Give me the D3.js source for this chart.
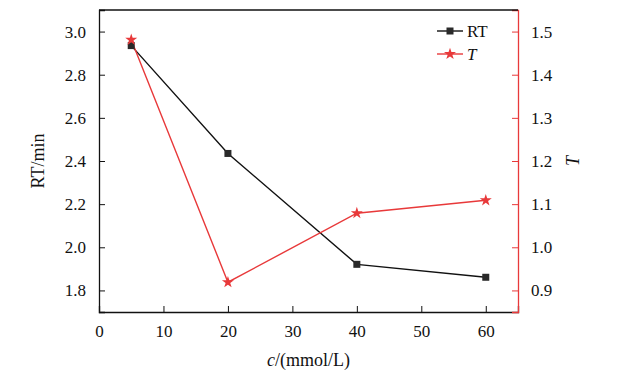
<!DOCTYPE html>
<html>
<head>
<meta charset="utf-8">
<script src="https://cdn.jsdelivr.net/npm/d3@7"></script>
<style>
  body { margin: 0; background: #fff; }
  svg text { font-family: "Liberation Serif", "Times New Roman", "DejaVu Serif", serif; }
</style>
</head>
<body>
<div id="chart"></div>
<script>
// concentration c (mmol/L)
const concentrations = [5, 20, 40, 60];
// retention time RT (min), left axis
const rtValues = [2.935, 2.435, 1.921, 1.861];
// tailing factor T, right axis
const tValues = [1.481, 0.919, 1.079, 1.109];

const xTicks = [0, 10, 20, 30, 40, 50, 60];
const rtTicks = [1.8, 2.0, 2.2, 2.4, 2.6, 2.8, 3.0];
const tTicks = [0.9, 1.0, 1.1, 1.2, 1.3, 1.4, 1.5];

const width = 617, height = 376;
const margin = { top: 10, right: 99, bottom: 64, left: 99 };
const red = "#e8393a";
const serif = "'Liberation Serif', 'Times New Roman', serif";

const svg = d3.select("#chart")
    .append("svg")
    .attr("width", width)
    .attr("height", height)
    .attr("font-family", serif);

const innerWidth = width - margin.left - margin.right;
const innerHeight = height - margin.top - margin.bottom;

const g = svg.append("g")
    .attr("transform", `translate(${margin.left},${margin.top})`);

const x = d3.scaleLinear().domain([0, 65]).range([0, innerWidth]);
const yL = d3.scaleLinear().domain([1.7, 3.1]).range([innerHeight, 0]);
const yR = d3.scaleLinear().domain([0.85, 1.55]).range([innerHeight, 0]);

// Axes (ticks pointing inward)
const xAxis = g.append("g")
    .attr("transform", `translate(0,${innerHeight})`)
    .call(d3.axisBottom(x).tickValues(xTicks).tickSize(-6).tickPadding(13).tickFormat(d3.format("d")));

const leftAxis = g.append("g")
    .call(d3.axisLeft(yL).tickValues(rtTicks).tickSize(-6).tickPadding(13).tickFormat(d3.format(".1f")));

const rightAxis = g.append("g")
    .attr("transform", `translate(${innerWidth},0)`)
    .call(d3.axisRight(yR).tickValues(tTicks).tickSize(-6).tickPadding(13).tickFormat(d3.format(".1f")));

[xAxis, leftAxis, rightAxis].forEach(a => {
    a.attr("font-family", serif).attr("font-size", 17);
    a.selectAll("text").attr("fill", "#111");
    a.selectAll("line").attr("stroke", "#111");
    a.select(".domain").attr("stroke", "#111").attr("stroke-width", 1.3);
});
rightAxis.selectAll("line").attr("stroke", red);
rightAxis.select(".domain").attr("stroke", red);

// top border
g.append("line")
    .attr("x1", 0).attr("x2", innerWidth)
    .attr("y1", 0).attr("y2", 0)
    .attr("stroke", "#111").attr("stroke-width", 1.3);

const rtData = concentrations.map((c, i) => ({ c, v: rtValues[i] }));
const tData = concentrations.map((c, i) => ({ c, v: tValues[i] }));

// Lines
g.append("path")
    .datum(rtData)
    .attr("fill", "none")
    .attr("stroke", "#111")
    .attr("stroke-width", 1.4)
    .attr("d", d3.line().x(d => x(d.c)).y(d => yL(d.v)));

g.append("path")
    .datum(tData)
    .attr("fill", "none")
    .attr("stroke", red)
    .attr("stroke-width", 1.4)
    .attr("d", d3.line().x(d => x(d.c)).y(d => yR(d.v)));

const star = d3.symbol().type(d3.symbolStar).size(45);

// Markers
g.selectAll(".rt-pt")
    .data(rtData)
    .join("rect")
    .attr("class", "rt-pt")
    .attr("x", d => x(d.c) - 3.5)
    .attr("y", d => yL(d.v) - 3.5)
    .attr("width", 7)
    .attr("height", 7)
    .attr("fill", "#2a2a2a");

g.selectAll(".t-pt")
    .data(tData)
    .join("path")
    .attr("class", "t-pt")
    .attr("transform", d => `translate(${x(d.c)},${yR(d.v)})`)
    .attr("d", star)
    .attr("fill", red);

// Legend
const legend = svg.append("g").attr("transform", "translate(437,31)").attr("font-size", 17);
legend.append("line").attr("x1", 0).attr("x2", 26).attr("y1", 0).attr("y2", 0)
    .attr("stroke", "#111").attr("stroke-width", 1.4);
legend.append("rect").attr("x", 13 - 3.5).attr("y", -3.5).attr("width", 7).attr("height", 7)
    .attr("fill", "#2a2a2a");
legend.append("text").attr("x", 30).attr("y", 6).attr("fill", "#111").text("RT");

legend.append("line").attr("x1", 0).attr("x2", 26).attr("y1", 23).attr("y2", 23)
    .attr("stroke", red).attr("stroke-width", 1.4);
legend.append("path").attr("transform", "translate(13,23)").attr("d", star).attr("fill", red);
legend.append("text").attr("x", 30).attr("y", 29).attr("fill", "#111")
    .attr("font-style", "italic").text("T");

// Axis titles
svg.append("text")
    .attr("transform", `translate(44,${margin.top + innerHeight / 2}) rotate(-90)`)
    .attr("text-anchor", "middle")
    .attr("font-size", 18)
    .attr("fill", "#111")
    .text("RT/min");

svg.append("text")
    .attr("transform", `translate(579,${margin.top + innerHeight / 2}) rotate(-90)`)
    .attr("text-anchor", "middle")
    .attr("font-size", 18)
    .attr("font-style", "italic")
    .attr("fill", "#111")
    .text("T");

const xTitle = svg.append("text")
    .attr("x", margin.left + x(32.5))
    .attr("y", 366)
    .attr("text-anchor", "middle")
    .attr("font-size", 18)
    .attr("fill", "#111");
xTitle.append("tspan").attr("font-style", "italic").text("c");
xTitle.append("tspan").text("/(mmol/L)");
</script>
</body>
</html>
